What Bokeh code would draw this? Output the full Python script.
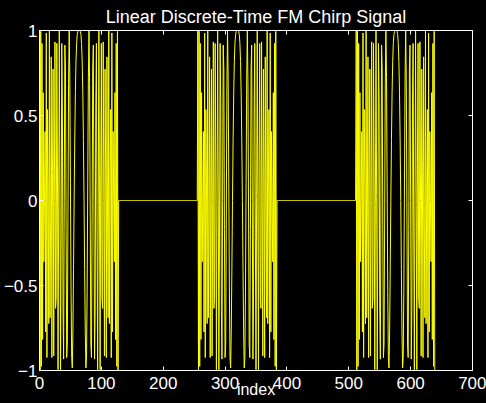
from bokeh.plotting import figure
from bokeh.models import Range1d, LinearAxis, FixedTicker, Title
from bokeh.embed import file_html
from bokeh.resources import INLINE

# One 128-sample linear FM chirp segment (symmetric about sample 64)
chirp_segment = [
    1.0, -0.9997, 0.9952, -0.9757, 0.9239, -0.8176, 0.6344, -0.3599, 0.0, 0.4052,
    -0.7730, 0.9853, -0.9239, 0.5350, 0.0980, -0.7242, 1.0, -0.6895, -0.0980, 0.8449,
    -0.9239, 0.1710, 0.7730, -0.9142, 0.0, 0.9330, -0.6344, -0.5758, 0.9239, 0.2191,
    -0.9952, -0.0245, 1.0,
    0.0245, -0.9952, -0.2191, 0.9239, 0.5758, -0.6344, -0.9330, 0.0, 0.9142, 0.7730,
    -0.1710, -0.9239, -0.8449, -0.0980, 0.6895, 1.0, 0.7242, 0.0980, -0.5350, -0.9239,
    -0.9853, -0.7730, -0.4052, 0.0, 0.3599, 0.6344, 0.8176, 0.9239, 0.9757, 0.9952,
    0.9997, 1.0,
    0.9997, 0.9952, 0.9757, 0.9239, 0.8176, 0.6344, 0.3599, 0.0, -0.4052, -0.7730,
    -0.9853, -0.9239, -0.5350, 0.0980, 0.7242, 1.0, 0.6895, -0.0980, -0.8449, -0.9239,
    -0.1710, 0.7730, 0.9142, 0.0, -0.9330, -0.6344, 0.5758, 0.9239, -0.2191, -0.9952,
    0.0245, 1.0, -0.0245, -0.9952, 0.2191, 0.9239, -0.5758, -0.6344, 0.9330, 0.0,
    -0.9142, 0.7730, 0.1710, -0.9239, 0.8449, -0.0980, -0.6895, 1.0, -0.7242, 0.0980,
    0.5350, -0.9239, 0.9853, -0.7730, 0.4052, 0.0, -0.3599, 0.6344, -0.8176, 0.9239,
    -0.9757, 0.9952, -0.9997,
]
# 128 silent samples between bursts
gap_segment = [0.0] * 128

signal = chirp_segment + gap_segment + chirp_segment + gap_segment + chirp_segment
index = list(range(len(signal)))

x_ticks = [0, 100, 200, 300, 400, 500, 600, 700]
y_ticks = [-1, -0.5, 0, 0.5, 1]
y_tick_labels = ["\u22121", "\u22120.5", "0", "0.5", "1"]

title_text = "Linear Discrete-Time FM Chirp Signal"
x_label = "index"

FONT = "Liberation Sans"
TICK_FS = "17px"
TITLE_FS = "18px"

p = figure(width=486, height=403, output_backend="svg", toolbar_location=None,
           x_range=Range1d(0, 700), y_range=Range1d(-1, 1),
           min_border_left=39, min_border_right=14, min_border_top=30, min_border_bottom=33)
p.background_fill_color = "black"
p.border_fill_color = "black"
p.outline_line_color = "white"
p.outline_line_width = 1
p.xgrid.visible = False
p.ygrid.visible = False

p.title = Title(text=title_text, align="center", text_color="white",
                text_font=FONT, text_font_size=TITLE_FS, text_font_style="normal",
                offset=0, standoff=8)

p.line(index, signal, line_color="#ffff00", line_width=1)

def style_axis(ax, show_labels, standoff):
    ax.axis_line_color = "white"
    ax.major_tick_line_color = "white"
    ax.major_tick_in = 4
    ax.major_tick_out = 0
    ax.minor_tick_line_color = None
    ax.major_label_text_color = "white"
    ax.major_label_text_font = FONT
    ax.major_label_text_font_size = TICK_FS if show_labels else "0px"
    ax.major_label_standoff = standoff

xa = p.xaxis[0]
xa.ticker = FixedTicker(ticks=x_ticks)
style_axis(xa, True, 6)
xa.axis_label = x_label
xa.axis_label_text_color = "white"
xa.axis_label_text_font = FONT
xa.axis_label_text_font_size = "16px"
xa.axis_label_text_font_style = "normal"
xa.axis_label_standoff = -11

ya = p.yaxis[0]
ya.ticker = FixedTicker(ticks=y_ticks)
ya.major_label_overrides = {t: l for t, l in zip(y_ticks, y_tick_labels)}
style_axis(ya, True, 2)

top_ax = LinearAxis(ticker=FixedTicker(ticks=x_ticks))
style_axis(top_ax, False, 0)
p.add_layout(top_ax, "above")

right_ax = LinearAxis(ticker=FixedTicker(ticks=y_ticks))
style_axis(right_ax, False, 0)
p.add_layout(right_ax, "right")

html = file_html(p, INLINE)
html = html.replace("<head>", "<head><style>html,body{background:#000;}</style>", 1)
open("out.html", "w").write(html)
